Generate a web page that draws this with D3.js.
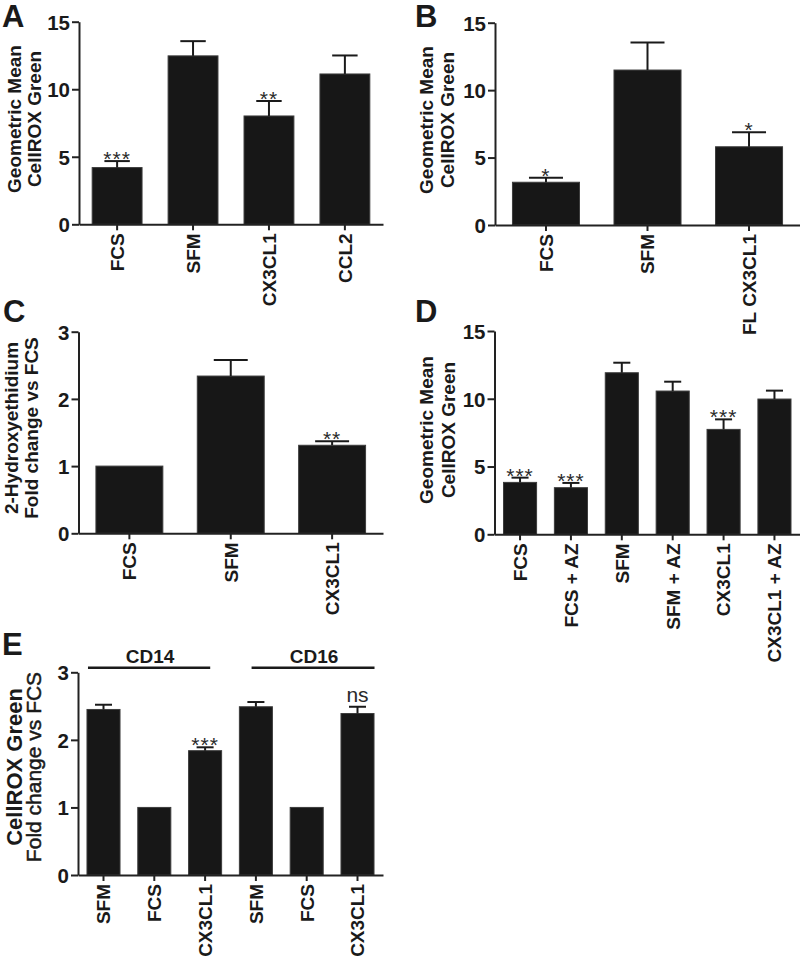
<!DOCTYPE html>
<html>
<head>
<meta charset="utf-8">
<script src="https://cdn.jsdelivr.net/npm/d3@7"></script>
<style>
  html, body { margin: 0; padding: 0; background: #fff; }
  svg { display: block; }
  text { font-family: "Liberation Sans", Arial, Helvetica, sans-serif; fill: #1a1a1a; }
</style>
</head>
<body>
<svg id="chart" width="800" height="957"></svg>
<script>
// ---------------- DATA ----------------
const catsA = ["FCS", "SFM", "CX3CL1", "CCL2"];
const valsA = [4.2, 12.47, 8.02, 11.13];
const errA  = [0.48, 1.09, 1.11, 1.37];
const sigA  = ["***", "", "**", ""];

const catsB = ["FCS", "SFM", "FL CX3CL1"];
const valsB = [3.17, 11.49, 5.8];
const errB  = [0.34, 2.05, 1.07];
const sigB  = ["*", "", "*"];

const catsC = ["FCS", "SFM", "CX3CL1"];
const valsC = [1.0, 2.34, 1.31];
const errC  = [0, 0.24, 0.06];
const sigC  = ["", "", "**"];

const catsD = ["FCS", "FCS + AZ", "SFM", "SFM + AZ", "CX3CL1", "CX3CL1 + AZ"];
const valsD = [3.83, 3.44, 11.92, 10.57, 7.74, 9.98];
const errD  = [0.35, 0.35, 0.74, 0.69, 0.74, 0.62];
const sigD  = ["***", "***", "", "", "***", ""];

const catsE = ["SFM", "FCS", "CX3CL1", "SFM", "FCS", "CX3CL1"];
const valsE = [2.45, 1.0, 1.84, 2.49, 1.0, 2.39];
const errE  = [0.07, 0, 0.05, 0.07, 0, 0.10];
const sigE  = ["", "", "***", "", "", "ns"];
const groupsE = ["CD14", "CD16"];

const ticks15 = [0, 5, 10, 15];
const ticks3  = [0, 1, 2, 3];

// ---------------- DRAW ----------------
const svg = d3.select("#chart");
const FONT = '"Liberation Sans", Arial, Helvetica, sans-serif';

function panel(cfg) {
  const g = svg.append("g");
  const idx = cfg.cats.map((c, i) => i);
  const x = d3.scaleBand().domain(idx)
    .range([cfg.ax, cfg.xEnd]).paddingInner(0.33).paddingOuter(0.167);
  const y = d3.scaleLinear().domain([0, cfg.ymax]).range([cfg.y0, cfg.yTop]);
  const bw = x.bandwidth();

  // bars
  g.selectAll("rect.bar").data(idx).join("rect")
    .attr("class", "bar")
    .attr("x", i => x(i) + 0.5)
    .attr("width", bw - 1)
    .attr("y", i => y(cfg.vals[i]))
    .attr("height", i => y(0) - y(cfg.vals[i]))
    .attr("fill", "#171717")
    .attr("stroke", "#3c3c3c")
    .attr("stroke-width", 1);

  // error bars (upper)
  const eb = idx.filter(i => cfg.err[i] > 0);
  g.selectAll("line.stem").data(eb).join("line")
    .attr("x1", i => x(i) + bw / 2).attr("x2", i => x(i) + bw / 2)
    .attr("y1", i => y(cfg.vals[i])).attr("y2", i => y(cfg.vals[i] + cfg.err[i]))
    .attr("stroke", "#1a1a1a").attr("stroke-width", 2);
  g.selectAll("line.cap").data(eb).join("line")
    .attr("x1", i => x(i) + bw / 4).attr("x2", i => x(i) + bw * 3 / 4)
    .attr("y1", i => y(cfg.vals[i] + cfg.err[i])).attr("y2", i => y(cfg.vals[i] + cfg.err[i]))
    .attr("stroke", "#1a1a1a").attr("stroke-width", 2);

  // significance marks
  g.selectAll("text.sig").data(idx.filter(i => cfg.sig[i])).join("text")
    .attr("x", i => x(i) + bw / 2)
    .attr("y", i => {
      const top = y(cfg.vals[i] + cfg.err[i]);
      return cfg.sig[i] === "ns" ? top - 5 : top + 5;
    })
    .attr("text-anchor", "middle")
    .style("font-size", "21px")
    .style("fill", "#2a2a2a")
    .style("letter-spacing", i => cfg.sig[i] === "ns" ? "0px" : "1px")
    .text(i => cfg.sig[i]);

  // y axis
  const yAxis = d3.axisLeft(y).tickValues(cfg.ticks).tickFormat(d3.format("d"))
    .tickSize(7).tickPadding(2).tickSizeOuter(0);
  const ya = g.append("g").attr("transform", `translate(${cfg.ax},0)`).call(yAxis);
  ya.select(".domain").attr("stroke", "#222").attr("stroke-width", 2);
  ya.selectAll(".tick line").attr("stroke", "#222").attr("stroke-width", 2);
  ya.selectAll(".tick text").style("font-family", FONT).style("font-size", "20.5px")
    .style("font-weight", "bold").style("fill", "#1a1a1a").attr("dy", "0.36em");

  // x axis
  const xAxis = d3.axisBottom(x).tickSize(6).tickSizeOuter(0).tickFormat(() => "");
  const xa = g.append("g").attr("transform", `translate(0,${cfg.y0})`).call(xAxis);
  xa.select(".domain").attr("stroke", "#222").attr("stroke-width", 2);
  xa.selectAll(".tick line").attr("stroke", "#222").attr("stroke-width", 2);

  // category labels (rotated)
  g.selectAll("text.cat").data(idx).join("text")
    .attr("class", "cat")
    .attr("transform", i => `translate(${x(i) + bw / 2},${cfg.y0 + 9}) rotate(-90)`)
    .attr("text-anchor", "end")
    .attr("dy", "0.36em")
    .style("font-size", "19px").style("font-weight", "bold")
    .text(i => cfg.cats[i]);

  // y title (one text per line)
  cfg.title.forEach(ln => {
    const t = g.append("text")
      .attr("transform", `translate(${ln.b},${cfg.tcy}) rotate(-90)`)
      .attr("text-anchor", "middle")
      .style("font-size", ln.size + "px")
      .style("font-weight", ln.weight)
      .text(ln.text);
    if (ln.weight === "normal") t.style("stroke", "#1a1a1a").style("stroke-width", 0.5);
  });

  // panel letter
  g.append("text").attr("x", cfg.lx).attr("y", cfg.ly)
    .style("font-size", "31px").style("font-weight", "bold").text(cfg.letter);

  return { g, x, y, bw };
}

panel({ letter: "A", lx: 2, ly: 27, cats: catsA, vals: valsA, err: errA, sig: sigA,
  ax: 79, xEnd: 383, y0: 224.3, yTop: 21.7, ymax: 15, ticks: ticks15, tcy: 119,
  title: [{ text: "Geometric Mean", b: 20.5, size: 19, weight: "bold" },
          { text: "CellROX Green", b: 41, size: 19, weight: "bold" }] });

panel({ letter: "B", lx: 415, ly: 27, cats: catsB, vals: valsB, err: errB, sig: sigB,
  ax: 495, xEnd: 800, y0: 225, yTop: 22.7, ymax: 15, ticks: ticks15, tcy: 120,
  title: [{ text: "Geometric Mean", b: 433, size: 19, weight: "bold" },
          { text: "CellROX Green", b: 454, size: 19, weight: "bold" }] });

panel({ letter: "C", lx: 3, ly: 322, cats: catsC, vals: valsC, err: errC, sig: sigC,
  ax: 78.5, xEnd: 383, y0: 533.3, yTop: 331.7, ymax: 3, ticks: ticks3, tcy: 428,
  title: [{ text: "2-Hydroxyethidium", b: 17.5, size: 19, weight: "bold" },
          { text: "Fold change vs FCS", b: 37.5, size: 19, weight: "bold" }] });

panel({ letter: "D", lx: 415, ly: 322, cats: catsD, vals: valsD, err: errD, sig: sigD,
  ax: 494.5, xEnd: 800, y0: 534.3, yTop: 331, ymax: 15, ticks: ticks15, tcy: 430,
  title: [{ text: "Geometric Mean", b: 433, size: 19, weight: "bold" },
          { text: "CellROX Green", b: 455, size: 19, weight: "bold" }] });

const pE = panel({ letter: "E", lx: 2, ly: 655, cats: catsE, vals: valsE, err: errE, sig: sigE,
  ax: 78, xEnd: 383, y0: 875, yTop: 672.3, ymax: 3, ticks: ticks3, tcy: 767,
  title: [{ text: "CellROX Green", b: 22, size: 22, weight: "bold" },
          { text: "Fold change vs FCS", b: 40.5, size: 21, weight: "normal" }] });

// group brackets for E
const step = pE.x.step();
const gb = [
  { name: groupsE[0], x1: pE.x(0) + 1.5, x2: pE.x(2) + pE.bw * 0.65 },
  { name: groupsE[1], x1: pE.x(3) + step * 0.25, x2: pE.x(5) + pE.bw }
];
pE.g.selectAll("line.grp").data(gb).join("line")
  .attr("x1", d => d.x1).attr("x2", d => d.x2)
  .attr("y1", 667.7).attr("y2", 667.7)
  .attr("stroke", "#1a1a1a").attr("stroke-width", 2.5);
pE.g.selectAll("text.grp").data(gb).join("text")
  .attr("x", d => (d.x1 + d.x2) / 2 + 1).attr("y", 662.5)
  .attr("text-anchor", "middle")
  .style("font-size", "19px").style("font-weight", "bold")
  .text(d => d.name);
</script>
</body>
</html>
